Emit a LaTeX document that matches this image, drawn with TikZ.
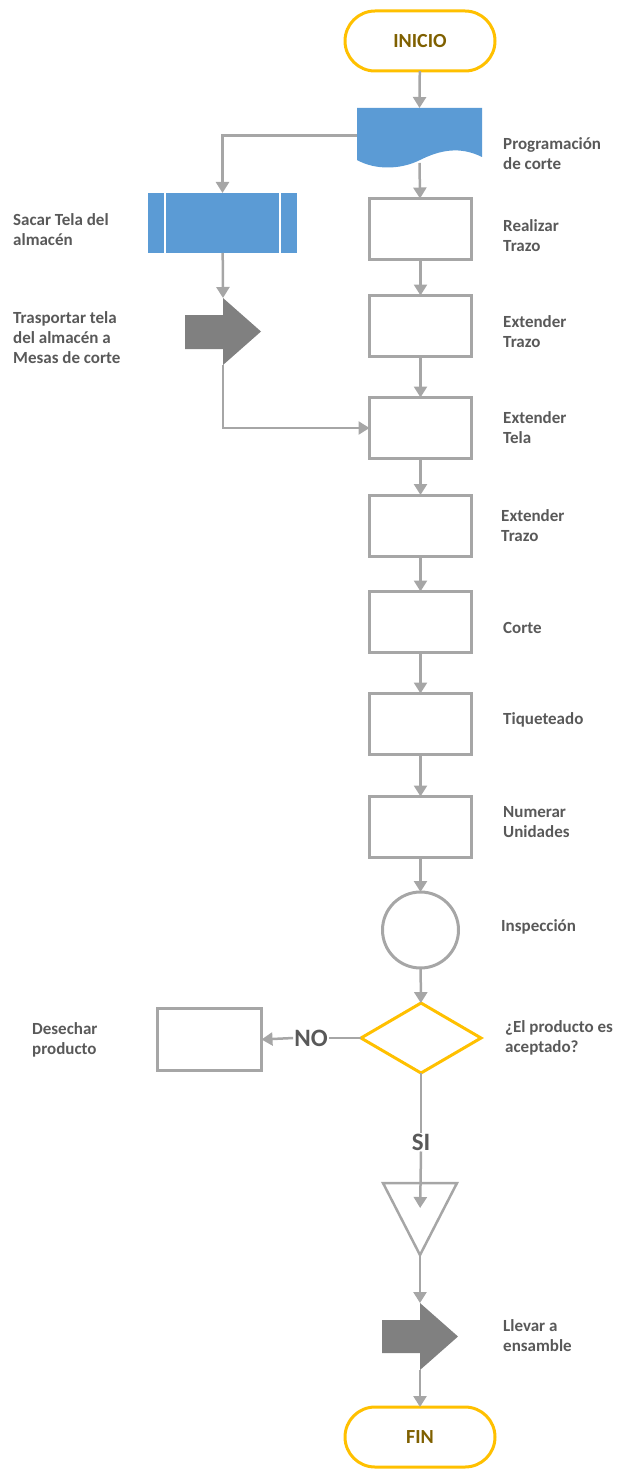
\documentclass[tikz,border=0pt]{standalone}
\usepackage{fontspec}
\setmainfont{Carlito}
\usetikzlibrary{arrows.meta,shapes.geometric}
\definecolor{yellowC}{HTML}{FFC000}
\definecolor{blueC}{HTML}{5B9BD5}
\definecolor{lineC}{HTML}{A6A6A6}
\definecolor{darkC}{HTML}{808080}
\definecolor{textC}{HTML}{595959}
\definecolor{termC}{HTML}{7F6000}
\begin{document}
\begin{tikzpicture}[x=1pt,y=-1pt,
  inv/.style={inner sep=0pt, outer sep=0pt, draw=none},
  term/.style={inv, draw=yellowC, line width=3pt, rounded corners=30pt, minimum width=150pt, minimum height=60pt, text=termC, font=\bfseries\fontsize{20}{24}\selectfont},
  opbox/.style={inv, draw=lineC, line width=3pt, minimum width=102pt, minimum height=61pt},
  lbl/.style={inner sep=0pt, anchor=west, align=left, text=textC, font=\bfseries\fontsize{17}{20}\selectfont},
  big/.style={inner sep=1pt, text=textC, font=\bfseries\fontsize{25}{28}\selectfont},
  conn/.style={draw=lineC, line width=2.5pt, -{Triangle[width=13pt,length=11pt]}},
  plain/.style={draw=lineC, line width=2.5pt}
]
\useasboundingbox (0,0) rectangle (616,1471);

% start
\node[term] (inicio) at (420,41) {INICIO};

% document
\node[inv, minimum width=125pt, minimum height=55pt] (prog) at (419.5,135.5) {};
\fill[blueC] (357,108) -- (482,108) -- (482,157) .. controls (460,146) and (440,150) .. (420,160) .. controls (400,170) and (375,170) .. (357,160) -- cycle;

% predefined process
\node[inv, fill=blueC, minimum width=149pt, minimum height=60pt] (sacar) at (222.5,223) {};
\draw[white, line width=1.5pt] ([xshift=17pt]sacar.north west) -- ([xshift=17pt]sacar.south west);
\draw[white, line width=1.5pt] ([xshift=-17pt]sacar.north east) -- ([xshift=-17pt]sacar.south east);

% transport 1
\node[inv, minimum width=76pt, minimum height=67pt] (trans1) at (223,331.5) {};
\fill[darkC] (185,315) -- (223,315) -- (223,298) -- (261,331.5) -- (223,365) -- (223,349) -- (185,349) -- cycle;

% main boxes
\node[opbox] (real) at (420.5,229) {};
\node[opbox] (ext1) at (420.5,326) {};
\node[opbox] (tela) at (420.5,428) {};
\node[opbox] (ext2) at (420.5,525.5) {};
\node[opbox] (corte) at (420.5,622) {};
\node[opbox] (tiq) at (420.5,724) {};
\node[opbox] (num) at (420.5,827) {};

% inspection
\node[inv, circle, draw=lineC, line width=3pt, minimum size=76pt] (insp) at (420.5,930) {};

% decision
\node[inv, diamond, draw=yellowC, line width=3pt, minimum width=120pt, minimum height=70pt] (dec) at (421,1038) {};

% discard
\node[opbox, minimum width=104pt, minimum height=62pt] (des) at (209.5,1039.5) {};

% storage
\node[inv, minimum width=74pt, minimum height=72pt] (store) at (420,1219) {};
\draw[lineC, line width=2.5pt, line join=miter] (store.north west) -- (store.north east) -- (store.south) -- cycle;

% transport 2
\node[inv, minimum width=76pt, minimum height=67pt] (trans2) at (420,1336.5) {};
\fill[darkC] (382,1320) -- (420,1320) -- (420,1303) -- (458,1336.5) -- (420,1370) -- (420,1353) -- (382,1353) -- cycle;

% end
\node[term] (fin) at (420,1437) {FIN};

% labels
\node[lbl] at (503,154) {Programación\\de corte};
\node[lbl] at (503,236) {Realizar\\Trazo};
\node[lbl] at (503,332) {Extender\\Trazo};
\node[lbl] at (503,428) {Extender\\Tela};
\node[lbl] at (501,526) {Extender\\Trazo};
\node[lbl] at (503,628) {Corte};
\node[lbl] at (503,720) {Tiqueteado};
\node[lbl] at (503,822) {Numerar\\Unidades};
\node[lbl] at (501,927) {Inspección};
\node[lbl] at (505,1038) {¿El producto es\\aceptado?};
\node[lbl] at (503,1336) {Llevar a\\ensamble};
\node[lbl] at (13,230) {Sacar Tela del\\almacén};
\node[lbl] at (13,338) {Trasportar tela\\del almacén a\\Mesas de corte};
\node[lbl] at (32,1040) {Desechar\\producto};

\node[big] (no) at (311,1038) {NO};
\node[big] (si) at (421,1142) {SI};

% connectors
\draw[conn] (inicio) -- (prog.north);
\draw[conn] (prog.west) -| (sacar.north);
\draw[conn] (prog.south) -- (real);
\draw[conn] (real) -- (ext1);
\draw[conn] (ext1) -- (tela);
\draw[conn] (tela) -- (ext2);
\draw[conn] (ext2) -- (corte);
\draw[conn] (corte) -- (tiq);
\draw[conn] (tiq) -- (num);
\draw[conn] (num) -- (insp);
\draw[conn] (insp) -- (dec);
\draw[conn] (sacar) -- (trans1.north);
\draw[conn] (trans1.south) |- (tela.west);
\draw[plain] (dec.west) -- (no.east);
\draw[conn] (no.west) -- (des.east);
\draw[plain] (dec.south) -- (si.north);
\draw[conn, shorten >=11pt] (si.south) -- (store.center);
\draw[conn] (store.south) -- (trans2.north);
\draw[conn] (trans2.south) -- (fin);
\end{tikzpicture}
\end{document}
